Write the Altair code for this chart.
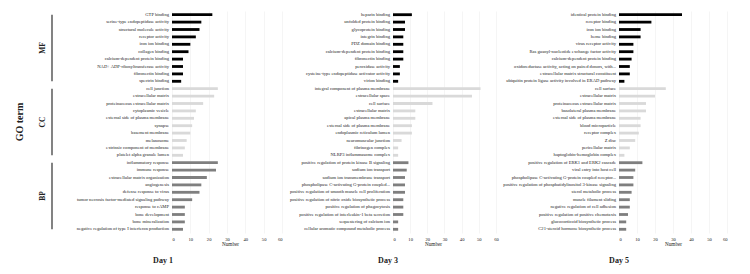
import altair as alt
import pandas as pd

categories = ["MF"] * 10 + ["CC"] * 10 + ["BP"] * 10

day1_terms = [
    "GTP binding", "serine-type endopeptidase activity", "structural molecule activity",
    "receptor activity", "iron ion binding", "collagen binding",
    "calcium-dependent protein binding", "NAD+ ADP-ribosyltransferase activity",
    "fibronectin binding", "spectrin binding",
    "cell junction", "extracellular matrix", "proteinaceous extracellular matrix",
    "cytoplasmic vesicle", "external side of plasma membrane", "synapse",
    "basement membrane", "melanosome", "extrinsic component of membrane",
    "platelet alpha granule lumen",
    "inflammatory response", "immune response", "extracellular matrix organization",
    "angiogenesis", "defense response to virus",
    "tumor necrosis factor-mediated signaling pathway", "response to cAMP",
    "bone development", "bone mineralization",
    "negative regulation of type I interferon production",
]
day1_counts = [22, 16, 15, 13, 10, 9, 6, 6, 6, 5,
               25, 23, 17, 13, 12, 11, 10, 8, 7, 6,
               25, 24, 19, 16, 15, 11, 7, 7, 7, 6]

day3_terms = [
    "heparin binding", "unfolded protein binding", "glycoprotein binding",
    "integrin binding", "PDZ domain binding", "calcium-dependent protein binding",
    "fibronectin binding", "peroxidase activity",
    "cysteine-type endopeptidase activator activity", "virion binding",
    "integral component of plasma membrane", "extracellular space", "cell surface",
    "extracellular matrix", "apical plasma membrane", "external side of plasma membrane",
    "endoplasmic reticulum lumen", "neuromuscular junction", "fibrinogen complex",
    "NLRP3 inflammasome complex",
    "positive regulation of protein kinase B signaling", "sodium ion transport",
    "sodium ion transmembrane transport", "phospholipase C-activating G-protein coupled...",
    "positive regulation of smooth muscle cell proliferation",
    "positive regulation of nitric oxide biosynthetic process",
    "positive regulation of phagocytosis",
    "positive regulation of interleukin-1 beta secretion",
    "sequestering of calcium ion", "cellular aromatic compound metabolic process",
]
day3_counts = [11, 7, 7, 6, 6, 6, 6, 4, 4, 3,
               51, 46, 23, 13, 13, 11, 11, 5, 3, 3,
               9, 8, 7, 7, 7, 6, 6, 6, 3, 3]

day5_terms = [
    "identical protein binding", "receptor binding", "iron ion binding", "heme binding",
    "virus receptor activity", "Ras guanyl-nucleotide exchange factor activity",
    "calcium-dependent protein binding",
    "oxidoreductase activity, acting on paired donors, with...",
    "extracellular matrix structural constituent",
    "ubiquitin protein ligase activity involved in ERAD pathway",
    "cell surface", "extracellular matrix", "proteinaceous extracellular matrix",
    "basolateral plasma membrane", "external side of plasma membrane",
    "blood microparticle", "receptor complex", "Z disc", "pericellular matrix",
    "haptoglobin-hemoglobin complex",
    "positive regulation of ERK1 and ERK2 cascade", "viral entry into host cell",
    "phospholipase C-activating G-protein coupled receptor...",
    "positive regulation of phosphatidylinositol 3-kinase signaling",
    "sterol metabolic process", "muscle filament sliding",
    "negative regulation of cell adhesion", "positive regulation of positive chemotaxis",
    "glucocorticoid biosynthetic process", "C21-steroid hormone biosynthetic process",
]
day5_counts = [35, 18, 12, 12, 8, 8, 7, 6, 6, 3,
               26, 20, 15, 15, 12, 12, 11, 9, 6, 3,
               13, 9, 8, 8, 7, 6, 6, 5, 4, 4]

group_names = ["MF", "CC", "BP"]
group_start = [0, 10, 20]
group_end = [9, 19, 29]
group_mid = [4.5, 14.5, 24.5]
group_colors = ["#000000", "#d9d9d9", "#7f7f7f"]
x_ticks = [0, 10, 20, 30, 40, 50, 60]

FONT = "Liberation Serif"
H = 222


def panel(terms, counts, day, width, xmax, title_dx, number_x, groups=False):
    df = pd.DataFrame({"term": terms, "count": counts, "cat": categories})
    bars = alt.Chart(df).mark_bar().encode(
        y=alt.Y("term:N", sort=terms,
                scale=alt.Scale(paddingInner=0.62, paddingOuter=0.31),
                axis=alt.Axis(title=None, labelFontSize=4.6, labelLimit=300,
                              ticks=False, domain=False, labelPadding=3.5,
                              labelColor="#222222", grid=False)),
        x=alt.X("count:Q", scale=alt.Scale(domain=[0, xmax], nice=False),
                axis=alt.Axis(values=x_ticks, title="Number", grid=True,
                              gridColor="#eeeeee", gridWidth=0.6, domain=False,
                              ticks=False, labelFontSize=4.6, labelPadding=3,
                              labelColor="#222222", titleFontSize=5.2,
                              titleFontWeight="normal", titlePadding=1,
                              titleX=number_x, titleColor="#222222")),
        color=alt.Color("cat:N", scale=alt.Scale(domain=group_names, range=group_colors),
                        legend=None),
    )
    title = alt.TitleParams(day, orient="bottom", anchor="start", align="center",
                            frame="group", dx=title_dx, offset=10, fontSize=8,
                            fontWeight="bold", font=FONT, color="#222222")
    if not groups:
        return bars.properties(width=width, height=H, title=title)

    gdf = pd.DataFrame({"name": group_names, "start": group_start,
                        "end": group_end, "mid": group_mid})
    yscale = alt.Scale(domain=[-0.5, 29.5], reverse=True, nice=False, zero=False)
    lines = alt.Chart(gdf).mark_rule(color="#404040", strokeWidth=1.3).encode(
        y=alt.Y("start:Q", scale=yscale, axis=None),
        y2="end:Q",
        x=alt.value(-120),
    )
    labels = alt.Chart(gdf).mark_text(angle=270, fontSize=7.5, fontWeight="bold",
                                      font=FONT, color="#222222",
                                      baseline="middle", align="center").encode(
        y=alt.Y("mid:Q", scale=yscale, axis=None),
        x=alt.value(-129),
        text="name:N",
    )
    gdf2 = pd.DataFrame({"name": ["GO term"], "mid": [14.5]})
    goterm = alt.Chart(gdf2).mark_text(angle=270, fontSize=10, fontWeight="bold",
                                       font=FONT, color="#222222",
                                       baseline="middle", align="center").encode(
        y=alt.Y("mid:Q", scale=yscale, axis=None),
        x=alt.value(-152),
        text="name:N",
    )
    return alt.layer(bars, lines, labels, goterm).resolve_scale(y="independent").properties(
        width=width, height=H, title=title)


# panel widths: Day 1 0-60 over 110px; Day 3 0-60 over 103px (extra room to the right);
# Day 5 0-60 over 108px
p1 = panel(day1_terms, day1_counts, "Day 1", 110, 60, -9, 58, groups=True)
p2 = panel(day3_terms, day3_counts, "Day 3", 115, 67, -5, 40)
p3 = panel(day5_terms, day5_counts, "Day 5", 108, 60, 0, 54)

chart = alt.HConcatChart(hconcat=[p1, p2, p3], spacing=111, bounds="flush").properties(
    padding={"left": 7, "top": 3, "right": 4, "bottom": 2}
).configure_view(stroke=None).configure_axis(
    labelFont=FONT, titleFont=FONT
).configure_text(font=FONT)

chart.save("out.html", embed_options={"renderer": "svg", "actions": False})
